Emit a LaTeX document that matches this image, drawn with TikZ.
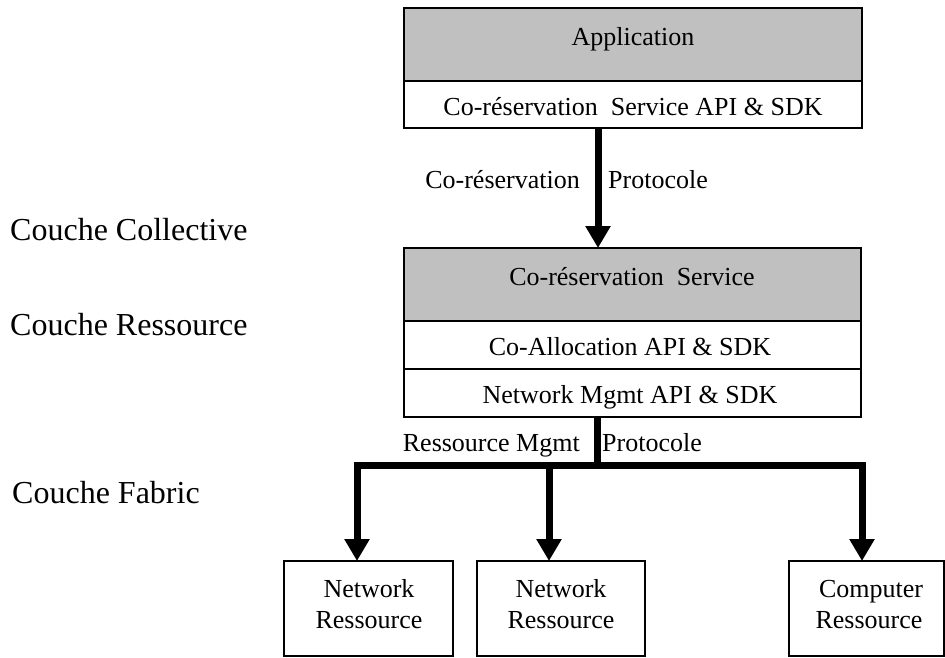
\documentclass[tikz,border=0pt]{standalone}
\usepackage{fontspec}
\setmainfont{Liberation Serif}
\usetikzlibrary{arrows.meta}
\definecolor{layergray}{RGB}{192,192,192}
\begin{document}
\begin{tikzpicture}[x=1pt,y=-1pt,
  frame/.style={draw=black, line width=1.8pt, inner sep=0pt, outer sep=0pt},
  shaded/.style={frame, fill=layergray},
  txt/.style={font=\fontsize{26}{31}\selectfont, inner sep=0pt, anchor=base},
  layer/.style={font=\fontsize{32}{38}\selectfont, inner sep=0pt, anchor=base west},
  bus/.style={line width=7pt},
  flow/.style={bus, -{Triangle[width=24pt,length=22pt]}}]
\useasboundingbox (0,0) rectangle (945,657);

% layer names
\node[layer] (l-coll) at (10,240) {Couche Collective};
\node[layer] (l-res)  at (10,335) {Couche Ressource};
\node[layer] (l-fab)  at (12,503) {Couche Fabric};

% application stack
\node[shaded, minimum width=458pt, minimum height=73pt] (app) at (633,44.5) {};
\node[frame,  minimum width=458pt, minimum height=47pt] (api) at (633,104.5) {};
\node[txt] (app-t) at (633,45)  {Application};
\node[txt] (api-t) at (633,115) {Co-réservation\ \ Service API \& SDK};

% co-reservation service stack
\node[shaded, minimum width=457pt, minimum height=73pt] (svc)   at (632.5,284.5) {};
\node[frame,  minimum width=457pt, minimum height=48pt] (alloc) at (632.5,345) {};
\node[frame,  minimum width=457pt, minimum height=48pt] (netm)  at (632.5,393) {};
\node[txt] (svc-t)   at (632,285) {Co-réservation\ \ Service};
\node[txt] (alloc-t) at (630,355) {Co-Allocation API \& SDK};
\node[txt] (netm-t)  at (630,403) {Network Mgmt API \& SDK};

% resources
\node[frame, minimum width=169pt, minimum height=95pt] (nr1) at (368.5,608.5) {};
\node[frame, minimum width=168pt, minimum height=95pt] (nr2) at (561,608.5) {};
\node[frame, minimum width=155pt, minimum height=95pt] (cr)  at (866.5,608.5) {};
\node[txt] (nr1-a) at (369,597) {Network};
\node[txt] (nr1-b) at (369,628) {Ressource};
\node[txt] (nr2-a) at (561,597) {Network};
\node[txt] (nr2-b) at (561,628) {Ressource};
\node[txt] (cr-a)  at (871,597) {Computer};
\node[txt] (cr-b)  at (869,628) {Ressource};

% co-reservation protocol
\coordinate (top-x) at (598,0);
\draw[flow] (api.south -| top-x) -- (svc.north -| top-x);
\node[txt, anchor=base east] (cp-l) at (580,188) {Co-réservation};
\node[txt, anchor=base west] (cp-r) at (608,188) {Protocole};

% resource management protocol
\coordinate (hub) at (597,465);
\coordinate (d1) at (357,0);
\coordinate (d2) at (549,0);
\coordinate (d3) at (862,0);
\draw[bus] (netm.south -| hub) -- (hub);
\draw[flow] (hub) -| (nr1.north -| d1);
\draw[flow] (hub) -| (nr2.north -| d2);
\draw[flow] (hub) -| (cr.north -| d3);
\node[txt, anchor=base east] (rm-l) at (580,451) {Ressource Mgmt};
\node[txt, anchor=base west] (rm-r) at (602,451) {Protocole};
\end{tikzpicture}
\end{document}
